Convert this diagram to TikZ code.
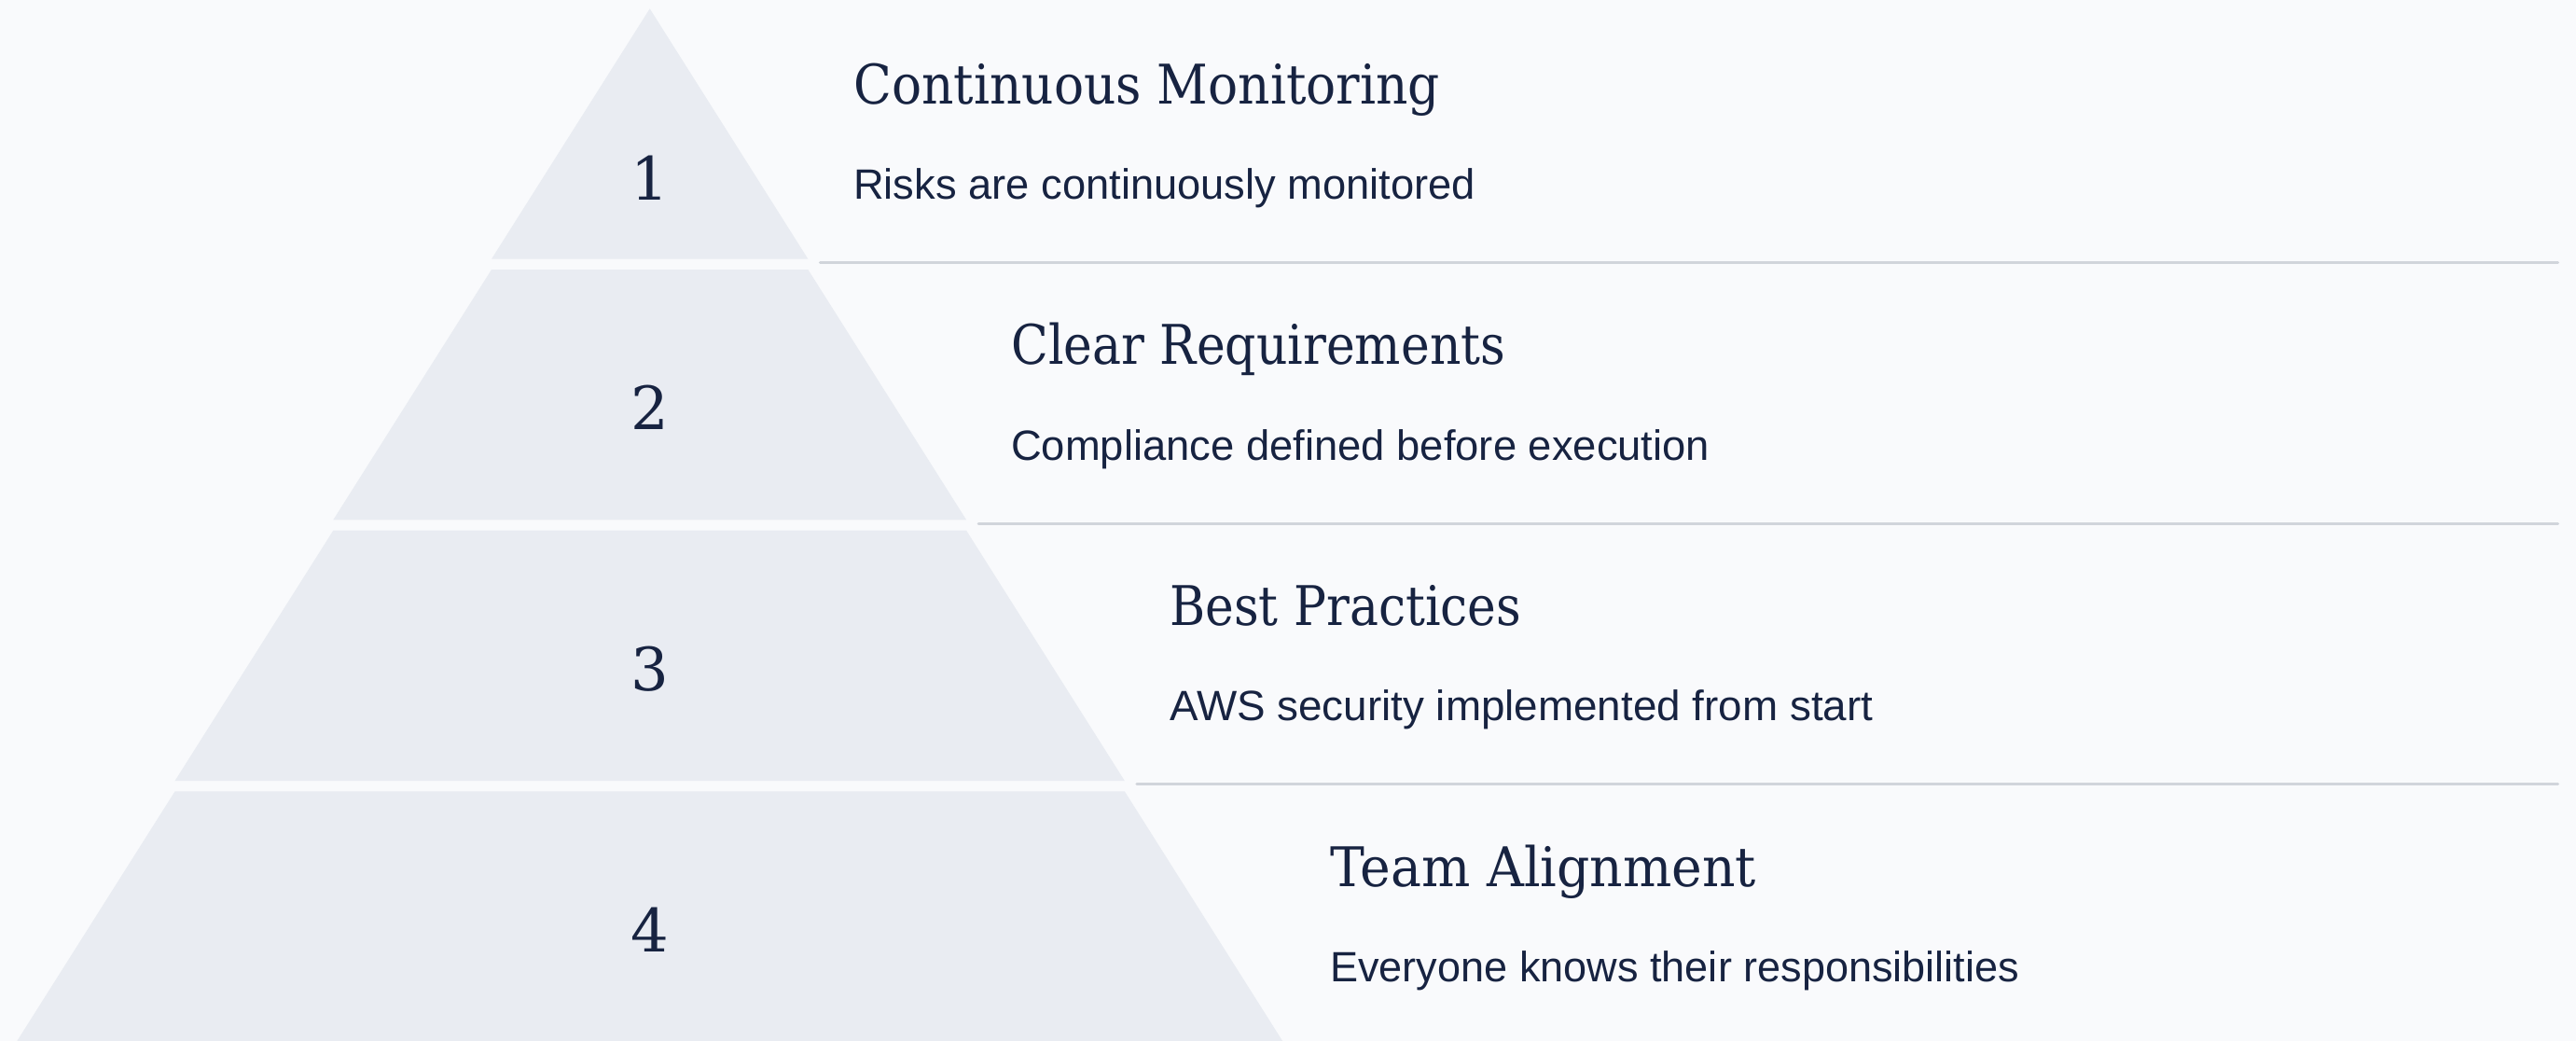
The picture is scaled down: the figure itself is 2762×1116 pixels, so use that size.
\documentclass[tikz,border=0pt]{standalone}
\usepackage{fontspec}
\usepackage{graphicx}
\setmainfont{Liberation Sans}
\newfontfamily\slabfont{DejaVu Serif}
\newfontfamily\bodyfont{Liberation Sans}
\definecolor{bg}{HTML}{F9FAFC}
\definecolor{tierfill}{HTML}{E9ECF2}
\definecolor{ink}{HTML}{172341}
\definecolor{rulegray}{HTML}{D1D5DB}
\newcommand\titletext[2]{\resizebox{#1pt}{\height}{\slabfont\fontsize{58.6}{60}\selectfont #2}}
\newcommand\bodytext[2]{\resizebox{#1pt}{\height}{\bodyfont\fontsize{45.4}{47}\selectfont #2}}
\tikzset{
  tier/.style={fill=tierfill},
  titlelbl/.style={anchor=base west, inner sep=0pt, text=ink},
  bodylbl/.style={anchor=base west, inner sep=0pt, text=ink},
  numlbl/.style={anchor=center, inner sep=0pt, text=ink, font=\slabfont\fontsize{64}{64}\selectfont},
  sepline/.style={draw=rulegray, line width=3pt, line cap=round}
}
\begin{document}
\begin{tikzpicture}[x=1pt, y=-1pt]
\fill[bg] (0,0) rectangle (2762,1116);
\useasboundingbox (0,0) rectangle (2762,1116);
\def\cx{696.7}
\def\hu{169.7}
% tiers
\fill[tier] (\cx,9.3) -- ({\cx+\hu},277.7) -- ({\cx-\hu},277.7) -- cycle;
\fill[tier] ({\cx-\hu},289) -- ({\cx+\hu},289) -- ({\cx+2*\hu},557.3) -- ({\cx-2*\hu},557.3) -- cycle;
\fill[tier] ({\cx-2*\hu},568.7) -- ({\cx+2*\hu},568.7) -- ({\cx+3*\hu},837) -- ({\cx-3*\hu},837) -- cycle;
\fill[tier] ({\cx-3*\hu},848.3) -- ({\cx+3*\hu},848.3) -- ({\cx+4*\hu},1116.6) -- ({\cx-4*\hu},1116.6) -- cycle;
% separator lines
\coordinate (s1) at ({\cx+\hu+13},281.7);
\coordinate (e1) at (2742.5,281.7);
\coordinate (s2) at ({\cx+2*\hu+13},561);
\coordinate (e2) at (2742.5,561);
\coordinate (s3) at ({\cx+3*\hu+13},840.7);
\coordinate (e3) at (2742.5,840.7);
\draw[sepline] (s1) -- (e1);
\draw[sepline] (s2) -- (e2);
\draw[sepline] (s3) -- (e3);
% numbers
\node[numlbl] (n1) at (\cx,190.5) {1};
\node[numlbl] (n2) at (\cx,436.7) {2};
\node[numlbl] (n3) at (\cx,716.7) {3};
\node[numlbl] (n4) at (\cx,996.7) {4};
% titles
\node[titlelbl] (t1) at (915,111) {\titletext{629}{Continuous Monitoring}};
\node[titlelbl] (t2) at (1084,390.7) {\titletext{530}{Clear Requirements}};
\node[titlelbl] (t3) at (1254,670.3) {\titletext{377}{Best Practices}};
\node[titlelbl] (t4) at (1426,950) {\titletext{457}{Team Alignment}};
% bodies
\node[bodylbl] (b1) at (915,213.3) {\bodytext{667}{Risks are continuously monitored}};
\node[bodylbl] (b2) at (1084,493) {\bodytext{749}{Compliance defined before execution}};
\node[bodylbl] (b3) at (1254,772.7) {\bodytext{754}{AWS security implemented from start}};
\node[bodylbl] (b4) at (1426,1052.5) {\bodytext{739}{Everyone knows their responsibilities}};
\end{tikzpicture}
\end{document}
